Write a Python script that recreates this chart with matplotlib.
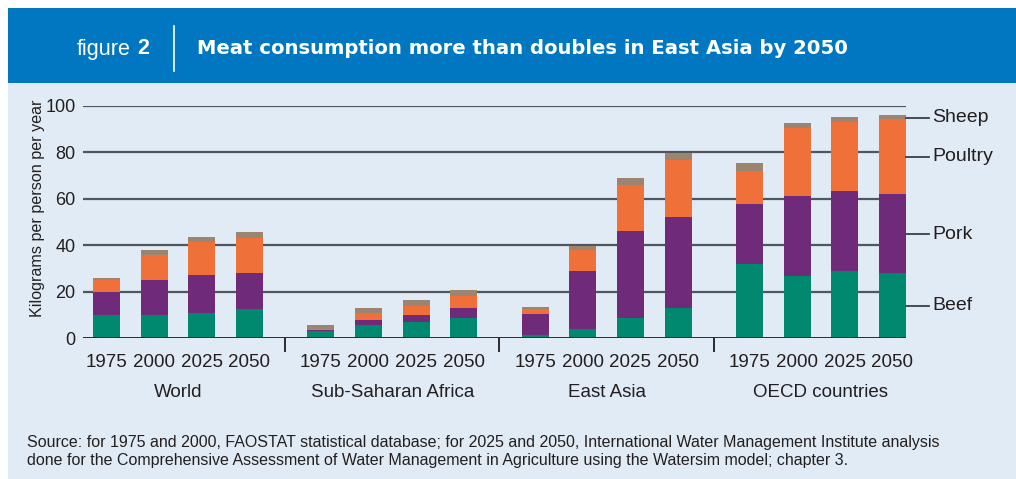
import matplotlib
matplotlib.use("Agg")
import matplotlib.pyplot as plt
import numpy as np
from matplotlib.patches import Rectangle
from matplotlib.lines import Line2D

plt.rcParams['font.family'] = ['Liberation Sans', 'DejaVu Sans']

regions = ["World", "Sub-Saharan Africa", "East Asia", "OECD countries"]
years = ["1975", "2000", "2025", "2050"]
meats = ["Beef", "Pork", "Poultry", "Sheep"]

# cumulative tops (kg per person per year)
beef_top = [10.0, 10.0, 10.9, 12.6,   3.0, 5.7, 7.0, 8.7,   1.5, 4.0, 8.9, 13.1,   32.1, 26.9, 28.9, 28.1]
pork_top = [20.0, 25.1, 27.2, 28.1,   3.4, 7.9, 10.0, 13.0,  10.4, 29.0, 46.2, 52.2,  57.7, 61.2, 63.3, 62.0]
poultry_top = [25.2, 35.9, 41.4, 43.1, 4.0, 10.9, 14.0, 18.3, 12.6, 38.1, 66.0, 76.5, 71.9, 90.5, 93.1, 94.3]
sheep_top = [26.1, 38.0, 43.5, 45.7,  5.7, 13.0, 16.5, 20.8,  13.5, 39.7, 69.0, 79.5,  75.4, 92.6, 95.1, 96.0]

beef = np.array(beef_top)
pork = np.array(pork_top) - np.array(beef_top)
poultry = np.array(poultry_top) - np.array(pork_top)
sheep = np.array(sheep_top) - np.array(poultry_top)

legend_levels = [94.9, 78.0, 44.8, 14.0]  # Sheep, Poultry, Pork, Beef label heights
legend_names = ["Sheep", "Poultry", "Pork", "Beef"]

colors = {"Beef": "#00896e", "Pork": "#6f2a7a", "Poultry": "#f0703a", "Sheep": "#9c8570"}
bg = "#e1ebf5"
header_blue = "#0077c0"
text_col = "#231f20"
grid_col = "#50565c"

W, H = 1016, 479
fig = plt.figure(figsize=(W / 100, H / 100), dpi=100)
fig.patch.set_facecolor("white")

# background panel and header
fig.add_artist(Rectangle((8 / W, 0), 1 - 8 / W, 1 - 83 / H, transform=fig.transFigure,
                         facecolor=bg, edgecolor="none", zorder=0))
fig.add_artist(Rectangle((8 / W, 1 - 83 / H), 1 - 8 / W, 75 / H, transform=fig.transFigure,
                         facecolor=header_blue, edgecolor="none", zorder=0))
fig.text(77 / W, 1 - 49 / H, "figure", color="white", fontsize=15.5, va="center", ha="left")
fig.text(137 / W, 1 - 49 / H, "2", color="white", fontsize=15.5, fontweight="bold", va="center", ha="left")
fig.add_artist(Line2D([173.5 / W, 173.5 / W], [1 - 26 / H, 1 - 71 / H], color="white", lw=1.2,
                      transform=fig.transFigure))
fig.text(197 / W, 1 - 49 / H, "Meat consumption more than doubles in East Asia by 2050",
         color="white", fontsize=14.1, fontweight="bold", va="center", ha="left",
         family=["DejaVu Sans"])

# positions
pos = []
for g in range(4):
    for k in range(4):
        pos.append(g * 4.5 + k)
pos = np.array(pos, dtype=float)
bw = 0.57

left_px, right_px = 82.5, 906
bottom_px, top_px = 338.3, 105.7
ax = fig.add_axes([left_px / W, 1 - bottom_px / H, (right_px - left_px) / W, (bottom_px - top_px) / H])
ax.set_facecolor("none")
ax.set_xlim(pos[0] - (106.5 - left_px) / 47.6, pos[-1] + bw / 2)
ax.set_ylim(0, 100)

for v in [20, 40, 60, 80, 100]:
    ax.axhline(v, color=grid_col, lw=1.6, zorder=1)
ax.axhline(0, color="#2a2a2a", lw=1.4, zorder=4)

bottom = np.zeros(len(pos))
for name, vals in zip(meats, [beef, pork, poultry, sheep]):
    ax.bar(pos, vals, bw, bottom=bottom, color=colors[name], edgecolor="none", zorder=3)
    bottom = bottom + vals

for s in ax.spines.values():
    s.set_visible(False)
ax.set_yticks([0, 20, 40, 60, 80, 100])
ax.tick_params(axis="y", length=0, pad=5, labelsize=13, labelcolor=text_col)
ax.set_xticks(pos)
ax.set_xticklabels(years * 4)
ax.tick_params(axis="x", length=0, pad=11, labelsize=13.5, labelcolor=text_col)
ax.set_ylabel("Kilograms per person per year", fontsize=11.6, color=text_col)
ax.yaxis.set_label_coords(-(82.5 - 45) / (right_px - left_px), 0.558)

# group labels and separators
for g, name in enumerate(regions):
    ax.text(g * 4.5 + 1.5, -23.3, name, ha="center", va="center", fontsize=13.5, color=text_col,
            clip_on=False)
for g in range(3):
    xs = g * 4.5 + 3.75
    ax.plot([xs, xs], [0, -5.6], color="#2a2a2a", lw=1.4, clip_on=False, zorder=4)

# legend labels to the right
x_end = pos[-1] + bw / 2
x_line = x_end + 23 / 47.6
for lvl, name in zip(legend_levels, legend_names):
    ax.plot([x_end, x_line], [lvl, lvl], color="#3a3f44", lw=1.3, clip_on=False, zorder=4)
    ax.text(x_line + 3 / 47.6, lvl, name, ha="left", va="center", fontsize=14, color=text_col,
            clip_on=False)

fig.text(27 / W, 1 - 443 / H,
         "Source: for 1975 and 2000, FAOSTAT statistical database; for 2025 and 2050, International Water Management Institute analysis",
         fontsize=11.5, color=text_col, ha="left", va="center")
fig.text(27 / W, 1 - 461 / H,
         "done for the Comprehensive Assessment of Water Management in Agriculture using the Watersim model; chapter 3.",
         fontsize=11.5, color=text_col, ha="left", va="center")

fig.savefig("out.png", dpi=100, facecolor=fig.get_facecolor())
